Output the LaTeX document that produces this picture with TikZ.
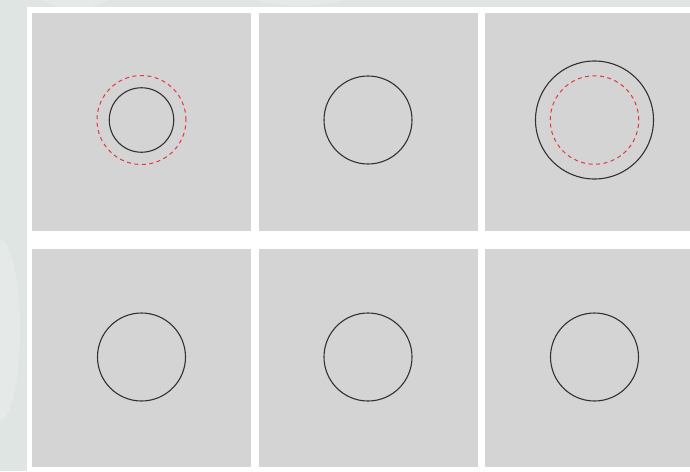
\documentclass[tikz,border=0pt]{standalone}
\usepackage{tikz}
\definecolor{backdrop}{HTML}{DFE5E2}
\definecolor{panelgrey}{HTML}{D4D4D4}
\definecolor{ringdark}{HTML}{363030}
\definecolor{ringred}{HTML}{E2383E}

\begin{document}
\begin{tikzpicture}[x=1pt, y=-1pt,
  panel/.style={rectangle, fill=panelgrey, minimum width=219pt, minimum height=218pt, inner sep=0pt},
  ring/.style={circle, draw=ringdark, line width=1.1pt, inner sep=0pt},
  guide/.style={circle, draw=ringred, dash pattern=on 4pt off 3.5pt, line width=1pt, inner sep=0pt}
  ]
\useasboundingbox (0,0) rectangle (690,471);
\clip (0,0) rectangle (690,471);

% backdrop with faint blobs
\fill[backdrop] (0,0) rectangle (690,471);
\fill[backdrop!80!white] (0,330) ellipse (20 and 90);
\fill[backdrop!80!white] (75,-10) ellipse (40 and 18);
\fill[backdrop!80!white] (300,-12) ellipse (60 and 18);
\fill[white] (27,7) rectangle (700,480);

% Top row
\node[panel] (p1) at (141.5,121.5) {};
\node[panel] (p2) at (368,121.5) {};
\node[panel] (p3) at (594.5,121.5) {};

\node[guide, minimum size=89pt] (g1) at ([yshift=1.5pt]p1.center) {};
\node[ring, minimum size=64.5pt] (r1) at ([yshift=1.5pt]p1.center) {};

\node[ring, minimum size=88pt] (r2) at ([yshift=1.5pt]p2.center) {};

\node[ring, minimum size=118pt] (r3) at ([yshift=1.5pt]p3.center) {};
\node[guide, minimum size=88.5pt] (g3) at ([yshift=1.5pt]p3.center) {};

% Bottom row
\node[panel] (p4) at (141.5,358) {};
\node[panel] (p5) at (368,358) {};
\node[panel] (p6) at (594.5,358) {};

\node[ring, minimum size=88pt] (r4) at ([yshift=1pt]p4.center) {};
\node[ring, minimum size=88pt] (r5) at ([yshift=1pt]p5.center) {};
\node[ring, minimum size=88pt] (r6) at ([yshift=1pt]p6.center) {};

\end{tikzpicture}
\end{document}
